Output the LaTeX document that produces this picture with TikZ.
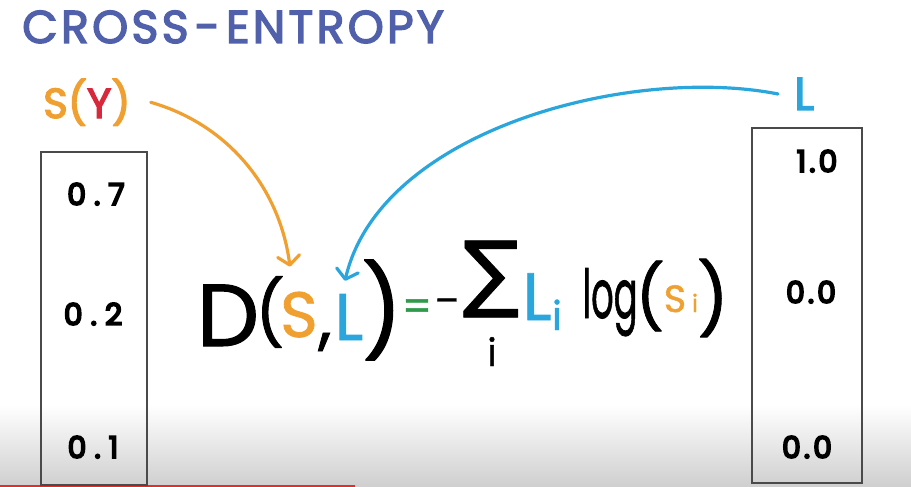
\documentclass[tikz,border=0pt]{standalone}
\usepackage{fontspec}
\setmainfont{Poppins}[FakeBold=3]
\newfontfamily\penfont{Poppins}[FakeBold=1.2]
\newfontfamily\digitfont{Poppins}[FakeBold=6]
\newfontfamily\sigmafont{DejaVu Sans}[FakeBold=1]
\usetikzlibrary{arrows.meta}
\definecolor{chalk}{HTML}{5060AA}
\definecolor{amber}{HTML}{F0A030}
\definecolor{berry}{HTML}{D8283C}
\definecolor{sky}{HTML}{2AA6DC}
\definecolor{leaf}{HTML}{2E9A4A}
\definecolor{frame}{HTML}{4A4A4A}
\definecolor{bar}{HTML}{E52D27}
\newcommand{\numpair}[3][8pt]{#2\kern#1.\kern#1#3}
\newcommand{\fsz}[1]{\fontsize{#1}{#1}\selectfont}

\begin{document}
\begin{tikzpicture}[x=1pt,y=-1pt,
  glyph/.style={inner sep=0pt,anchor=base,font=\penfont\fsz{#1}},
  mid/.style={inner sep=0pt,anchor=center,font=\penfont\fsz{#1}},
  entry/.style={inner sep=0pt,anchor=base,font=\digitfont\fsz{30}},
  vecbox/.style={draw=frame,line width=2.8pt,inner sep=0pt},
  pointer/.style={line width=3.2pt,line cap=round,
    -{Straight Barb[round,length=9pt,width=22pt]}}
]
\useasboundingbox (0,0) rectangle (911,487);
\shade[top color=white,bottom color=gray!38] (0,405) rectangle (911,487);
\draw[bar,line width=2pt] (0,486) -- (355,486);

% title and the two labels
\node[inner sep=0pt,anchor=base west,text=chalk,font=\fsz{46}\addfontfeatures{LetterSpace=7}]
  (title) at (22,43) {CROSS\kern6pt-\kern6pt ENTROPY};
\node[inner sep=0pt,anchor=base west,text=amber,font=\fsz{42}] (sy) at (43,118)
  {S(\textcolor{berry}{Y})};
\node[inner sep=0pt,anchor=base west,text=sky,font=\fsz{46}] (lab) at (794,110) {L};

% the two vectors
\node[vecbox,minimum width=106pt,minimum height=333pt] (sbox) at (94,318.5) {};
\node[entry] (s1) at (96,205) {\numpair{0}{7}};
\node[entry] (s2) at (93,325) {\numpair{0}{2}};
\node[entry] (s3) at (93,458) {\numpair{0}{1}};
\node[vecbox,minimum width=110pt,minimum height=355pt] (lbox) at (807,305.5) {};
\node[entry] (l1) at (817,172) {\numpair[3pt]{1}{0}};
\node[entry] (l2) at (811,303) {\numpair[3pt]{0}{0}};
\node[entry] (l3) at (807,458) {\numpair[3pt]{0}{0}};

% D(S,L) = - sum_i L_i log(S_i)
\node[glyph=88] (fD) at (228,346) {D};
\node[mid=64] (fopen) at (270,312) {(};
\node[glyph=64,text=amber] (fS) at (299,337) {S};
\node[mid=67] (fcomma) at (325,342) {,};
\node[glyph=66,text=sky] (fL) at (349,340) {L};
\node[mid=90] (fclose) at (382,310) {)};
\node[mid=42,text=leaf] (feq) at (417,310) {=};
\node[mid=36] (fminus) at (447,306) {–};
\node[mid=84,font=\sigmafont\fsz{84}] (fsum) at (491,279) {∑};
\node[glyph=38] (fidx) at (492,366) {i};
\node[glyph=67,text=sky] (fLi) at (537,320) {L};
\node[glyph=40,text=sky] (fLsub) at (557,330) {i};
\node[glyph=40] (flog) at (610,318) {\resizebox{55pt}{50pt}{log}};
\node[mid=63] (fopen2) at (650,296) {(};
\node[glyph=38,text=amber] (fSi) at (675,312) {S};
\node[glyph=24,text=amber] (fSsub) at (695,312) {i};
\node[mid=70] (fclose2) at (713,298) {)};

% pointers
\draw[pointer,amber] ([xshift=20pt]sy.east) .. controls (230,125) and (280,190)
  .. ([xshift=-9pt,yshift=25pt]fS.north);
\draw[pointer,sky] ([xshift=-16pt]lab.west) .. controls (630,65) and (380,130)
  .. ([xshift=-4pt,yshift=13pt]fL.north);
\end{tikzpicture}
\end{document}
